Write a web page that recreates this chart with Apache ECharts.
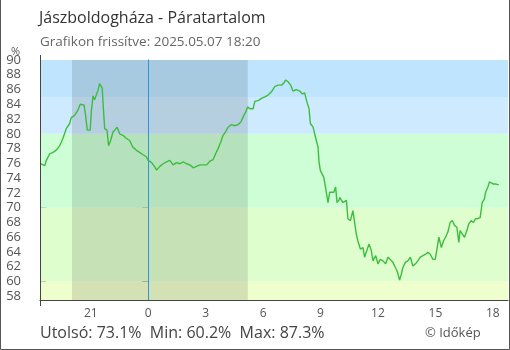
<!DOCTYPE html>
<html>
<head>
<meta charset="utf-8">
<script src="https://cdn.jsdelivr.net/npm/echarts@6/dist/echarts.min.js"></script>
<style>
  html, body { margin: 0; padding: 0; background: #fff; }
  #chart { width: 510px; height: 350px; }
</style>
</head>
<body>
<div id="chart"></div>
<script>
// Hours relative to midnight of 2025.05.07 (negative = previous evening)
const hours = [
  -5.65, -5.40, -5.32, -5.14, -4.97, -4.80, -4.62, -4.45, -4.28, -4.10,
  -4.02, -3.84, -3.67, -3.55, -3.46, -3.35, -3.27, -3.18, -3.11, -3.03,
  -2.97, -2.88, -2.80, -2.71, -2.62, -2.54, -2.45, -2.40, -2.33, -2.27,
  -2.15, -2.07, -1.96, -1.84, -1.72, -1.62, -1.49, -1.32, -1.15, -0.97,
  -0.80, -0.63, -0.45, -0.28, -0.10,
  0.00, 0.18, 0.35, 0.44, 0.61, 0.78, 0.96, 1.13, 1.30, 1.48,
  1.65, 1.83, 2.00, 2.18, 2.35, 2.52, 2.70, 2.87, 3.05, 3.22,
  3.39, 3.52, 3.65, 3.79, 3.91, 4.04, 4.17, 4.35, 4.52, 4.69,
  4.84, 4.96, 5.10, 5.19, 5.31, 5.48, 5.57, 5.74,
  5.92, 6.09, 6.26, 6.44, 6.61, 6.78, 6.96, 7.09, 7.18, 7.30,
  7.44, 7.56, 7.74, 7.91, 8.05, 8.17, 8.29, 8.40, 8.47, 8.61,
  8.70, 8.78, 8.87, 8.92, 8.99, 9.08, 9.17, 9.27, 9.39, 9.48,
  9.57, 9.69, 9.79, 9.86, 9.96,
  10.00, 10.17, 10.35, 10.43, 10.56, 10.69, 10.78, 10.87, 10.95, 11.08,
  11.22, 11.30, 11.42, 11.53, 11.65, 11.74, 11.88, 12.00, 12.12, 12.26,
  12.40, 12.52, 12.64, 12.78, 12.91, 12.99, 13.13, 13.22, 13.30, 13.43,
  13.56, 13.69, 13.82, 13.96, 14.08, 14.21, 14.35, 14.49, 14.61, 14.73,
  14.87, 14.99, 15.08, 15.18, 15.31, 15.42, 15.53, 15.65, 15.77, 15.88,
  16.00, 16.12, 16.22, 16.29, 16.40, 16.52, 16.64, 16.74, 16.87, 16.99,
  17.09, 17.21, 17.34, 17.44, 17.56, 17.62, 17.74, 17.82, 17.91, 18.03,
  18.17, 18.31
];

// Relative humidity, %
const humidity = [
  76.0, 75.7, 76.4, 77.3, 77.5, 77.8, 78.4, 79.4, 80.7, 81.4,
  82.2, 82.5, 83.2, 84.0, 84.25, 83.9, 82.5, 80.5, 80.3, 80.5,
  83.0, 85.15, 84.6, 84.8, 85.9, 86.8, 87.0, 86.2, 83.0, 80.7,
  80.5, 78.4, 79.1, 80.25, 80.6, 80.9, 80.0, 79.8, 79.4, 79.1,
  78.2, 77.8, 77.5, 77.2, 76.9,
  76.4, 76.1, 75.5, 75.1, 75.6, 75.95, 76.2, 76.4, 75.8, 76.1,
  75.95, 76.2, 75.95, 75.8, 75.4, 75.6, 75.8, 75.8, 75.8, 76.3,
  76.5, 77.3, 78.0, 78.9, 79.8, 80.25, 80.9, 81.25, 81.1, 81.25,
  81.6, 82.3, 83.0, 83.65, 83.4, 83.4, 84.4, 84.5,
  84.8, 85.0, 85.25, 85.7, 86.4, 86.6, 86.6, 86.9, 87.3, 87.05,
  86.6, 85.8, 86.0, 85.8, 85.4, 85.55, 84.3, 83.4, 81.4, 80.9,
  80.7, 79.1, 78.2, 76.2, 75.05, 75.3, 74.1, 72.6, 70.7, 72.1,
  72.3, 72.1, 72.8, 70.7, 71.0,
  71.4, 70.7, 71.0, 68.5, 68.25, 69.6, 69.4, 66.4, 65.5, 64.4,
  64.6, 63.3, 64.2, 65.1, 64.2, 62.8, 63.5, 62.4, 63.0, 62.8,
  62.4, 63.3, 63.0, 62.6, 61.9, 61.5, 60.2, 61.0, 61.9, 62.6,
  62.8, 63.3, 62.1, 62.4, 62.8, 63.3, 63.5, 63.7, 63.95, 63.7,
  63.0, 63.0, 64.4, 66.0, 64.6, 65.5, 66.0, 66.7, 68.0, 68.25,
  67.6, 67.35, 65.3, 66.9, 66.45, 66.0, 66.9, 67.8, 68.25, 68.0,
  68.5, 68.5, 68.7, 70.7, 71.2, 72.1, 72.8, 73.5, 73.7, 73.2,
  73.2, 73.1
];

const xTickHours = [-3, 0, 3, 6, 9, 12, 15, 18];
const yTickValues = [58, 60, 62, 64, 66, 68, 70, 72, 74, 76, 78, 80, 82, 84, 86, 88, 90];
const xRange = [-5.65, 18.79];
const yRange = [57.5, 90];

// Humidity bands (lower, upper)
const bandEdges = [[57.5, 60], [60, 70], [70, 80], [80, 85], [85, 90]];
const bandColors = ['#eefecd', '#dffecd', '#cdfed6', '#cdeafe', '#bee4fe'];

// Night period (sunset .. sunrise), hours relative to midnight
const night = [-3.98, 5.2];

const titleText = 'Jászboldogháza - Páratartalom';
const subtitleText = 'Grafikon frissítve: 2025.05.07 18:20';
const statsText = 'Utolsó: 73.1%  Min: 60.2%  Max: 87.3%';
const creditText = '© Időkép';

const FONT = '"Open Sans", "Noto Sans", sans-serif';
const AXIS = '#444';

const chart = echarts.init(document.getElementById('chart'), null, { renderer: 'canvas' });

const points = hours.map((h, i) => [h, humidity[i]]);

function textBlock(text, left, topPx, size, color) {
  return { text, left, top: topPx, padding: 0,
    textStyle: { fontFamily: FONT, fontSize: size, fontWeight: 'normal', color } };
}

chart.setOption({
  animation: false,
  backgroundColor: '#ffffff',
  textStyle: { fontFamily: FONT },
  grid: { left: 40, top: 60, right: 2, bottom: 50, containLabel: false },
  title: [
    textBlock(titleText, 39, 10, 16, '#333'),
    textBlock(subtitleText, 40, 35, 13.5, '#666'),
    textBlock('%', 11, 46, 11, '#555'),
    textBlock(statsText, 40, 325, 16, '#444'),
    textBlock(creditText, 425, 327, 13, '#555')
  ],
  xAxis: [{
    type: 'value', min: xRange[0], max: xRange[1],
    axisLine: { show: true, lineStyle: { color: AXIS, width: 1 } },
    axisTick: { show: true, inside: true, length: 6, customValues: xTickHours, lineStyle: { color: AXIS } },
    axisLabel: { show: true, customValues: xTickHours, margin: 8, fontSize: 12, color: '#555', fontFamily: FONT,
      formatter: v => String(((Math.round(v) % 24) + 24) % 24) },
    splitLine: { show: false }
  }],
  yAxis: [{
    type: 'value', min: yRange[0], max: yRange[1],
    axisLine: { show: true, lineStyle: { color: AXIS, width: 1 } },
    axisTick: { show: true, inside: false, length: 6, customValues: [yRange[0]].concat(yTickValues), lineStyle: { color: AXIS } },
    axisLabel: { show: true, customValues: yTickValues, margin: 19, fontSize: 13, color: '#555', fontFamily: FONT },
    splitLine: { show: false }
  }, {
    type: 'value', min: yRange[0], max: yRange[1], position: 'left',
    axisLine: { show: false },
    axisTick: { show: true, inside: true, length: 6, customValues: yTickValues, lineStyle: { color: AXIS } },
    axisLabel: { show: false },
    splitLine: { show: false }
  }],
  series: [
    {
      type: 'line', data: [], z: 1, silent: true,
      markArea: {
        silent: true,
        data: bandEdges.map((b, i) => [
          { yAxis: b[0], itemStyle: { color: bandColors[i] } },
          { yAxis: b[1] }
        ])
      }
    },
    {
      type: 'line', data: [], z: 2, silent: true,
      markArea: {
        silent: true,
        itemStyle: { color: 'rgba(0,0,0,0.115)' },
        data: [[{ xAxis: night[0] }, { xAxis: night[1] }]]
      },
      markLine: {
        silent: true, symbol: ['none', 'none'], label: { show: false },
        lineStyle: { color: '#2b95e0', width: 1, type: 'solid' },
        data: [{ xAxis: 0 }]
      }
    },
    {
      type: 'line', data: points, z: 3, showSymbol: false, symbol: 'none',
      lineStyle: { color: '#3dbd3d', width: 1.4 },
      silent: true
    }
  ]
});

// Small axis overhangs at the corners of the plot and the outer frame
const cornerTop = chart.convertToPixel({ xAxisIndex: 0, yAxisIndex: 0 }, [xRange[0], yRange[1]]);
const cornerBot = chart.convertToPixel({ xAxisIndex: 0, yAxisIndex: 0 }, [xRange[0], yRange[0]]);
const axisX = Math.round(cornerTop[0]) + 0.5;
chart.setOption({
  graphic: [
    { type: 'line', silent: true, shape: { x1: axisX, y1: cornerTop[1] - 5, x2: axisX, y2: cornerBot[1] + 6 },
      style: { stroke: AXIS, lineWidth: 1 }, z: 10 },
    { type: 'polyline', silent: true, shape: { points: [[0.5, 0], [0.5, 349.5], [509.5, 349.5], [509.5, 0]] },
      style: { stroke: '#555', lineWidth: 1, fill: null }, z: 10 }
  ]
});
</script>
</body>
</html>
